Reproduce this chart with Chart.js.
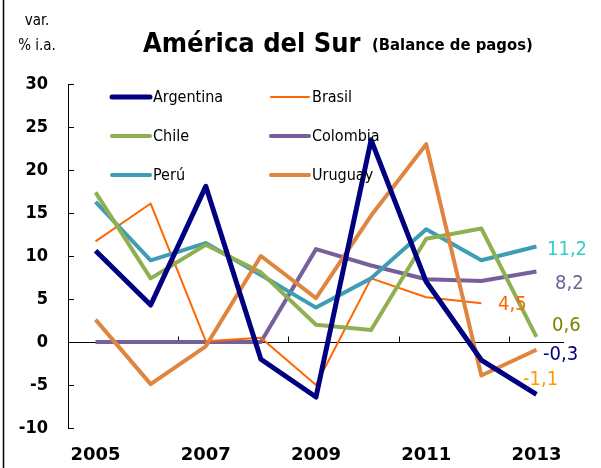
<!DOCTYPE html>
<html>
<head>
<meta charset="utf-8">
<script src="https://cdn.jsdelivr.net/npm/chart.js@4.4.1/dist/chart.umd.min.js"></script>
<style>
  html, body { margin: 0; padding: 0; background: #fff; }
  #wrap { position: relative; width: 601px; height: 468px; }
</style>
</head>
<body>
<div id="wrap"><canvas id="chart" width="601" height="468"></canvas></div>
<script>
// años y variación % i.a.
const years = ['2005', '2006', '2007', '2008', '2009', '2010', '2011', '2012', '2013'];
const argentina = [10.6, 4.3, 18.1, -2.0, -6.4, 23.5, 7.0, -2.1, -6.1];
const brasil    = [11.7, 16.1, 0.1, 0.5, -5.0, 7.4, 5.2, 4.5, null];
const chile     = [17.4, 7.4, 11.3, 8.1, 2.0, 1.4, 12.0, 13.2, 0.6];
const colombia  = [0, 0, 0, 0, 10.8, 8.9, 7.3, 7.1, 8.2];
const peru      = [16.3, 9.5, 11.5, 7.8, 4.0, 7.4, 13.1, 9.5, 11.1];
const uruguay   = [2.6, -4.9, -0.5, 10.0, 5.1, 14.7, 23.0, -3.9, -0.9];

const yTicks = [-10, -5, 0, 5, 10, 15, 20, 25, 30];

// etiquetas al final de las series (texto, color)
const endLabels = [
  { text: '11,2', color: '#33CCCC', x: 547, y: 250 },
  { text: '8,2',  color: '#666699', x: 555, y: 284 },
  { text: '4,5',  color: '#FF6600', x: 498, y: 305 },
  { text: '0,6',  color: '#808000', x: 552, y: 326 },
  { text: '-0,3', color: '#000080', x: 543, y: 355 },
  { text: '-1,1', color: '#FF9900', x: 523, y: 380 }
];

const FONT = "'DejaVu Sans Condensed', 'DejaVu Sans', sans-serif";

const series = [
  { label: 'Argentina', data: argentina, color: '#000080', width: 5 },
  { label: 'Brasil',    data: brasil,    color: '#FF6600', width: 2 },
  { label: 'Chile',     data: chile,     color: '#8FB050', width: 4 },
  { label: 'Colombia',  data: colombia,  color: '#76609C', width: 4 },
  { label: 'Perú',      data: peru,      color: '#3E9DB5', width: 4 },
  { label: 'Uruguay',   data: uruguay,   color: '#DF8540', width: 4 }
];

// dibuja orden: Colombia y Brasil abajo, Argentina arriba
const drawOrder = { 'Colombia': 6, 'Brasil': 5, 'Perú': 4, 'Chile': 3, 'Uruguay': 2, 'Argentina': 1 };

const decor = {
  id: 'decor',
  beforeDatasetsDraw(chart) {
    const ctx = chart.ctx;
    const x = chart.scales.x, y = chart.scales.y;
    const area = chart.chartArea;
    ctx.save();
    ctx.strokeStyle = '#000';
    ctx.lineWidth = 1;
    // eje y con marcas hacia dentro
    ctx.beginPath();
    ctx.moveTo(area.left + 0.5, area.top);
    ctx.lineTo(area.left + 0.5, area.bottom);
    yTicks.forEach(v => {
      const py = Math.round(y.getPixelForValue(v)) + 0.5;
      ctx.moveTo(area.left, py);
      ctx.lineTo(area.left + 6, py);
    });
    // linea del cero con marcas hacia arriba
    const y0 = Math.round(y.getPixelForValue(0)) + 0.5;
    ctx.moveTo(area.left, y0);
    ctx.lineTo(area.right, y0);
    [1.5, 3.5, 5.5, 7.5].forEach(i => {
      const px = Math.round((x.getPixelForValue(i - 0.5) + x.getPixelForValue(i + 0.5)) / 2) + 0.5;
      ctx.moveTo(px, y0);
      ctx.lineTo(px, y0 - 6);
    });
    ctx.stroke();
    ctx.restore();
  },
  afterDraw(chart) {
    const ctx = chart.ctx;
    ctx.save();
    // marco izquierdo
    ctx.strokeStyle = '#000';
    ctx.lineWidth = 1.5;
    ctx.beginPath();
    ctx.moveTo(3.5, 0);
    ctx.lineTo(3.5, 468);
    ctx.stroke();

    // titulo
    ctx.fillStyle = '#000';
    ctx.textBaseline = 'alphabetic';
    ctx.textAlign = 'left';
    ctx.font = 'bold 27px ' + FONT;
    ctx.fillText('América del Sur', 143, 52);
    ctx.font = 'bold 16.5px ' + FONT;
    ctx.fillText('(Balance de pagos)', 372, 50);
    ctx.textAlign = 'center';
    ctx.font = '15px ' + FONT;
    ctx.fillText('var.', 37, 25);
    ctx.fillText('% i.a.', 37, 50);

    // leyenda en dos columnas
    const cols = [112, 271], rows = [97, 136, 175];
    ctx.font = '16px ' + FONT;
    ctx.textAlign = 'left';
    ctx.textBaseline = 'middle';
    series.forEach((s, i) => {
      const lx = cols[i % 2], ly = rows[Math.floor(i / 2)];
      ctx.strokeStyle = s.color;
      ctx.lineWidth = s.width;
      ctx.lineCap = 'round';
      ctx.beginPath();
      ctx.moveTo(lx, ly);
      ctx.lineTo(lx + 38, ly);
      ctx.stroke();
      ctx.fillStyle = '#000';
      ctx.fillText(s.label, lx + 41, ly + 1);
    });

    // valores finales
    ctx.font = '20px ' + FONT;
    endLabels.forEach(l => {
      ctx.fillStyle = l.color;
      ctx.fillText(l.text, l.x, l.y);
    });
    ctx.restore();
  }
};

new Chart(document.getElementById('chart'), {
  type: 'line',
  data: {
    labels: years,
    datasets: series.map(s => ({
      label: s.label,
      data: s.data,
      borderColor: s.color,
      backgroundColor: s.color,
      borderWidth: s.width,
      borderJoinStyle: 'round',
      pointRadius: 0,
      tension: 0,
      order: drawOrder[s.label]
    }))
  },
  options: {
    responsive: false,
    animation: false,
    devicePixelRatio: 1,
    layout: { padding: { top: 84, right: 37, left: 0, bottom: 0 } },
    plugins: { legend: { display: false }, tooltip: { enabled: false } },
    scales: {
      x: {
        offset: true,
        grid: { display: false, drawTicks: false },
        border: { display: false },
        afterFit: s => { s.height = 40; },
        ticks: {
          autoSkip: false,
          maxRotation: 0,
          padding: 17,
          color: '#000',
          font: { family: "'DejaVu Sans', sans-serif", size: 18, weight: 'bold' },
          callback: (v, i) => (i % 2 === 0 ? years[i] : '')
        }
      },
      y: {
        min: -10,
        max: 30,
        grid: { display: false, drawTicks: false },
        border: { display: false },
        afterFit: s => { s.width = 68; },
        afterBuildTicks: s => { s.ticks = yTicks.map(v => ({ value: v })); },
        ticks: {
          padding: 20,
          color: '#000',
          font: { family: FONT, size: 18, weight: 'bold' }
        }
      }
    }
  },
  plugins: [decor]
});
</script>
</body>
</html>
